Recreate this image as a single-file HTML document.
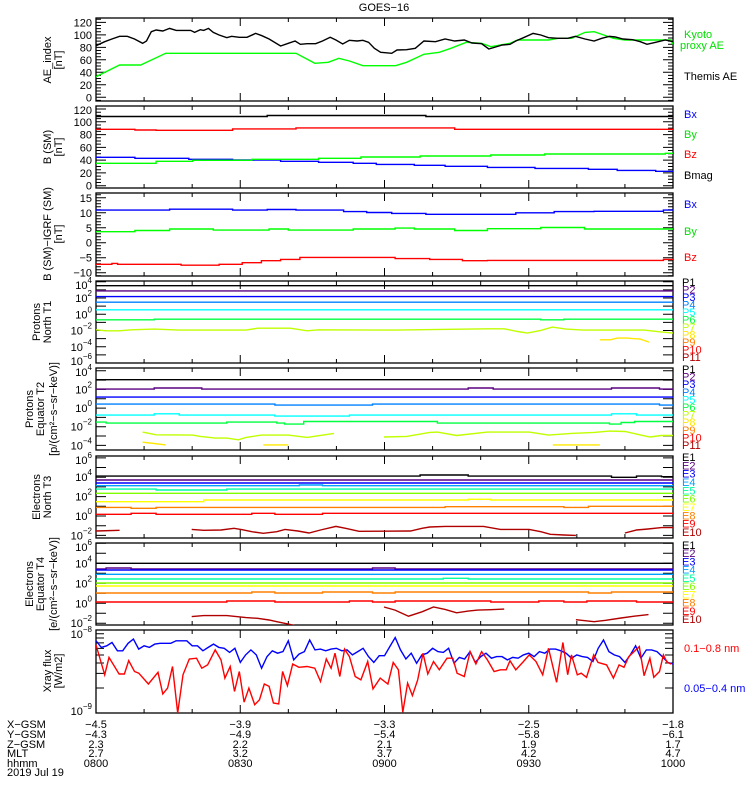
<!DOCTYPE html>
<html><head><meta charset="utf-8"><title>GOES-16</title>
<style>
html,body{margin:0;padding:0;background:#fff;}
svg{display:block;font-family:"Liberation Sans",sans-serif;}
text{font-size:11px;}
</style></head>
<body>
<svg id="chart" width="750" height="800" viewBox="0 0 750 800" xmlns="http://www.w3.org/2000/svg">
<rect x="0" y="0" width="750" height="800" fill="#fff"/>
<text x="384" y="11" text-anchor="middle" font-size="12">GOES−16</text>
<g id="axes"></g>
<g id="series"></g>
<g font-size="11">
<text transform="translate(51,60) rotate(-90)" text-anchor="middle">AE_index</text>
<text transform="translate(62,60) rotate(-90)" text-anchor="middle">[nT]</text>
<text transform="translate(51,147) rotate(-90)" text-anchor="middle">B (SM)</text>
<text transform="translate(62,147) rotate(-90)" text-anchor="middle">[nT]</text>
<text transform="translate(51,234) rotate(-90)" text-anchor="middle">B (SM)−IGRF (SM)</text>
<text transform="translate(62,234) rotate(-90)" text-anchor="middle">[nT]</text>
<text transform="translate(40,322) rotate(-90)" text-anchor="middle">Protons</text>
<text transform="translate(51,322) rotate(-90)" text-anchor="middle">North T1</text>
<text transform="translate(33,409) rotate(-90)" text-anchor="middle">Protons</text>
<text transform="translate(44,409) rotate(-90)" text-anchor="middle">Equator T2</text>
<text transform="translate(57,409) rotate(-90)" text-anchor="middle">[p/(cm²−s−sr−keV)]</text>
<text transform="translate(40,497) rotate(-90)" text-anchor="middle">Electrons</text>
<text transform="translate(51,497) rotate(-90)" text-anchor="middle">North T3</text>
<text transform="translate(33,584) rotate(-90)" text-anchor="middle">Electrons</text>
<text transform="translate(44,584) rotate(-90)" text-anchor="middle">Equator T4</text>
<text transform="translate(57,584) rotate(-90)" text-anchor="middle">[e/(cm²−s−sr−keV)]</text>
<text transform="translate(51,671) rotate(-90)" text-anchor="middle">Xray flux</text>
<text transform="translate(62,671) rotate(-90)" text-anchor="middle">[W/m2]</text>
</g>
<g font-size="11">
<text x="684" y="38" fill="#00e000">Kyoto</text>
<text x="680" y="49" fill="#00e000">proxy AE</text>
<text x="684" y="80" fill="#000">Themis AE</text>
<text x="684" y="118" fill="#0000ff">Bx</text>
<text x="684" y="138" fill="#00e000">By</text>
<text x="684" y="158" fill="#ff0000">Bz</text>
<text x="684" y="179" fill="#000">Bmag</text>
<text x="684" y="208" fill="#0000ff">Bx</text>
<text x="684" y="235" fill="#00e000">By</text>
<text x="684" y="261" fill="#ff0000">Bz</text>
<text x="684" y="652" fill="#ff0000">0.1−0.8 nm</text>
<text x="684" y="692" fill="#0000ff">0.05−0.4 nm</text>
</g>
<g id="chanlegend"></g>
<g font-size="11">
<text x="7" y="728">X−GSM</text>
<text x="7" y="738">Y−GSM</text>
<text x="7" y="748">Z−GSM</text>
<text x="7" y="757">MLT</text>
<text x="7" y="767">hhmm</text>
<text x="7" y="776">2019 Jul 19</text>
</g>
<g id="orbit" font-size="11"></g>
</svg>
<script>
// ---------- data ----------
const timeTickLabels = ["0800","0830","0900","0930","1000"];
const tickTimes = [0,30,60,90,120];
const xgsm = ["−4.5","−3.9","−3.3","−2.5","−1.8"];
const ygsm = ["−4.3","−4.9","−5.4","−5.8","−6.1"];
const zgsm = ["2.3","2.2","2.1","1.9","1.7"];
const mlt = ["2.7","3.2","3.7","4.2","4.7"];

const aeThemis = [[0,82.6],[1.8,89],[3.3,93.3],[4.9,97.6],[6.5,97.6],[8.0,93.3],[9.7,86.4],[10.5,90.1],[11.5,105],[12.5,107.7],[13.9,106.1],[15.3,110.4],[16.7,107.2],[18.5,107.2],[19.7,107.2],[20.5,104],[21.7,108.2],[22.4,107.2],[23.4,110.4],[24.4,104],[25.6,99.7],[27.2,95.4],[28.2,97.6],[29.8,96],[31.4,96],[33.2,102.4],[34.5,98.6],[36.0,93.3],[38.4,82.1],[40.0,86.4],[41.4,90.1],[42.5,84.8],[43.9,85.8],[45.7,85.8],[47.1,90.1],[48.7,96],[49.9,91.7],[51.3,85.3],[52.7,91.2],[54.3,90.1],[55.5,91.2],[56.7,88],[57.9,78.4],[59.2,72],[61.5,70.4],[62.6,75.7],[64.6,76.2],[66.4,78.4],[68.2,90.1],[70.6,89],[72.6,93.3],[74.6,90.1],[76.6,91.7],[78.2,86.9],[80.2,85.8],[81.7,77.3],[83.1,80.5],[84.5,83.7],[86.1,84.8],[87.3,90.1],[88.9,95.4],[90.9,102.4],[92.5,99.7],[94.1,95.4],[96.1,94.4],[98.1,94.4],[99.7,97.6],[101.7,93.3],[103.6,90.1],[105.2,94.4],[106.8,97.6],[108.0,96.5],[109.6,93.3],[111.6,92.2],[113.2,89],[114.6,84.8],[116.4,88],[118.4,91.7],[120,89]];
const aeKyoto = [[0,33],[4.9,51.7],[9.3,51.7],[14.5,70.4],[41.6,70.4],[45.5,54.4],[48.3,56],[50.5,62.4],[52.7,58.1],[55.5,50.6],[62.3,50.6],[64.6,56],[68.2,68.8],[71.4,72],[73.8,78.4],[77.0,88],[80.2,86.4],[82.1,81],[86.1,86.4],[87.7,91.7],[94.1,91.7],[96.1,94.4],[98.9,94.4],[101.7,104],[103.6,105],[105.6,99.7],[107.6,94.4],[110.0,91.7],[119.6,91.7],[120,84.8]];

const bsmBmag = [[0,108.3],[35.6,109.9],[68.6,108.3]];
const bsmBy = [[0,88.3],[8.1,87.2],[12.5,86.7],[28.4,88.8],[41.6,90.4],[74.6,88.3]];
const bsmBx = [[0,44.4],[8.1,42.8],[19.3,41.3],[28.4,40.2],[38.4,38.1],[46.3,36.6],[53.5,35.0],[58.3,33.4],[66.2,31.9],[72.6,30.3],[81.4,28.7],[91.3,27.1],[102.4,25.6],[108.4,24.0],[116.4,22.5]];
const bsmBz = [[0,35.0],[12.5,38.1],[20.1,39.7],[32.4,41.3],[46.3,42.8],[55.1,44.9],[67.4,46.5],[82.1,48.0],[93.3,49.6],[118.4,50.7]];

const igrfBx = [[0,10.9],[15.3,11.2],[28.4,10.9],[35.6,11.1],[41.6,10.9],[51.5,10.4],[56.3,10.1],[61.5,9.8],[68.6,9.5],[87.3,10.0],[95.3,10.4],[103.6,10.5],[118.0,10.9]];
const igrfBy = [[0,3.67],[8.1,4.1],[15.3,4.57],[24.4,4.23],[36.0,4.57],[40.0,4.23],[53.5,4.57],[62.2,4.9],[66.2,4.57],[74.6,4.1],[81.4,4.68],[92.5,5.1],[101.6,4.57]];
const igrfBz = [[0,-7.2],[3.3,-6.9],[4.5,-7.2],[17.7,-7.5],[25.6,-7.2],[30.4,-6.67],[34.4,-6.0],[38.4,-5.56],[42.4,-4.9],[62.2,-5.3],[69.4,-5.56],[76.2,-6.0],[81.4,-5.9],[118.0,-5.56]];

// Protons North T1 (log10 flux)
const pT1 = {
 P1:[[0,3.52]], P2:[[0,2.88]], P3:[[0,2.18]], P4:[[0,1.49]], P5:[[0,0.55]],
 P6:[[0,-0.68],[12.1,-0.6],[92.5,-0.68],[97.3,-0.6]]
};
const pT1P7 = [[0,-1.91],[2.1,-2.03],[4.9,-2.03],[7.3,-1.91],[12.1,-1.83],[17.3,-1.95],[31.2,-1.95],[33.6,-1.71],[40.4,-1.71],[43.9,-2.03],[46.3,-1.91],[62.2,-1.95],[81.4,-1.79],[84.9,-1.79],[87.7,-2.12],[89.7,-2.32],[92.5,-1.99],[94.9,-1.58],[97.7,-1.83],[101.3,-1.95],[114.0,-1.95],[117.2,-2.16],[120,-2.32]];
const pT1P8 = [[104.8,-3.14],[107.0,-3.14],[108.4,-2.93],[110.5,-2.93],[113.2,-3.06],[115.0,-3.43]];

// Protons Equator T2
const pT2 = {
 P1:[[0,3.04]],
 P2:[[0,2.04],[12.1,2.15],[22.0,2.04],[77.4,2.15],[82.6,2.04],[107.2,2.15],[117.2,2.04]],
 P3:[[0,1.18]],
 P4:[[0,0.43],[37.2,0.32],[57.5,0.43],[117.2,0.32]],
 P5:[[0,-0.75],[12.1,-0.61],[17.3,-0.75],[37.2,-0.86],[52.7,-0.75],[107.2,-0.61],[112.4,-0.75]],
 P6:[[0,-1.51],[2.1,-1.61],[27.2,-1.51],[37.6,-1.61],[39.2,-1.72],[43.2,-1.44],[71.0,-1.61],[106.8,-1.72],[109.2,-1.55],[112,-1.44]]
};
const pT2P7 = [[9.7,-2.58],[12.5,-2.87],[20.1,-2.90],[21.7,-3.04],[24.8,-3.22],[27.2,-3.22],[29.6,-3.40],[31.2,-3.15],[34.4,-2.90],[40.0,-2.90],[43.9,-3.15],[46.3,-2.97],[49.5,-2.72],null,[59.9,-3.11],[64.6,-3.04],[69.4,-2.61],[71.0,-2.58],[75.0,-2.94],[81.4,-2.58],[90.1,-2.58],[94.1,-2.90],[98.9,-2.72],[103.6,-2.61],[106.8,-2.47],[110.0,-2.51],[115.2,-3.11],[117.6,-2.94],[120,-2.94]];
const pT2P8 = [[9.7,-3.66],[12.1,-3.8],[14.5,-3.95],null,[34.8,-3.95],[40.0,-3.95],null,[95.0,-3.95],[104.8,-3.95]];

// Electrons North T3
const eT3 = {
 E1:[[0,4.12],[67.4,4.23],[77.4,4.12],[107.2,3.99],[112.4,4.12],[117.6,4.05]],
 E2:[[0,3.71]], E3:[[0,3.40]],
 E4:[[0,3.13],[42.3,3.2],[47.1,3.13]],
 E5:[[0,2.78],[12.5,2.68],[27.2,2.78]],
 E6:[[0,2.34]],
 E7:[[0,1.48],[22.4,1.65],[77.4,1.72],[82.1,1.65]],
 E8:[[0,0.89],[7.3,0.79],[12.5,0.89],[72.6,0.96],[97.3,0.89],[102.4,1.0]],
 E9:[[0,0.17],[7.3,0.28],[12.5,0.17],[32.4,0.28],[37.2,0.17],[47.1,0.28]]
};
const eT3E10 = [[0,-1.55],[4.9,-1.48],null,[19.9,-1.38],[22.4,-1.48],[26.0,-1.44],[28.7,-1.27],[30.4,-1.41],[32.4,-1.62],[34.8,-1.79],[37.6,-1.62],[39.3,-1.38],[42.0,-1.55],[44.3,-1.75],[46.7,-1.44],[49.9,-1.07],[51.9,-1.27],[54.7,-1.58],[65.4,-1.55],[67.8,-1.27],[69.4,-1.13],[72.6,-1.07],[80.6,-1.07],[84.1,-1.38],[90.1,-1.38],[92.5,-1.62],[94.5,-1.89],[97.3,-1.96],[99.8,-2.0],null,[110.0,-1.75],[112.4,-1.44],[114.8,-1.34],[117.6,-1.2],[120,-1.2]];

// Electrons Equator T4
const eT4 = {
 E1:[[0,4.0]],
 E2:[[0,3.43],[2.1,3.53],[7.3,3.43],[57.5,3.53],[62.2,3.43]],
 E3:[[0,3.33]],
 E4:[[0,2.9]],
 E5:[[0,2.43],[72.2,2.5],[77.4,2.43]],
 E6:[[0,2.03]],
 E7:[[0,1.73]],
 E8:[[0,1.03],[32.4,1.13],[37.2,1.03],[47.1,1.13],[57.5,1.03],[62.2,1.13],[102.4,1.03],[107.2,1.13]],
 E9:[[0,0.13],[27.2,0.23],[37.2,0.13],[52.7,0.23],[57.5,0.13],[62.2,0.23],[82.1,0.13],[92.1,0.23],[97.3,0.13],[102.1,0.23],[112.4,0.13]]
};
const eT4E10 = [[19.9,-1.33],[22.4,-1.23],[27.2,-1.23],[31.2,-1.43],[33.6,-1.5],[36.0,-1.67],[37.6,-1.84],[40.0,-2.08],[42,-2.3],null,[59.9,-0.37],[62.2,-0.68],[65.0,-1.29],[67.8,-0.85],[70.2,-0.37],[72.6,-0.61],[75.0,-0.95],[77.4,-0.78],[79.4,-0.68],[82.1,-0.64],[84.9,-0.58],null,[99.8,-1.64],[103.6,-1.84],[106.0,-1.7],[109.2,-1.47],[112.4,-1.26],[114.9,-1.13]];

// X-ray flux (log10 W/m2)
const xrayLongTimes = [0,1.8,2.7,4.8,5.9,6.8,8.0,8.9,10.9,12.9,13.9,14.9,15.9,17.0,18.1,19.4,20.9,22.0,23.2,24.8,26.0,26.8,27.9,28.8,29.8,30.8,31.8,33.0,34.0,35.0,36.0,36.9,38.0,38.8,39.8,40.9,42.2,43.9,45.5,46.7,47.9,48.9,49.7,50.7,51.7,52.7,53.9,55.1,56.5,57.6,59.1,60.7,61.8,62.9,63.8,64.8,65.8,66.9,68.0,69.0,70.2,71.4,73.0,74.2,75.1,76.6,77.8,79.0,80.2,81.4,82.8,84.1,85.3,86.1,87.3,88.9,90.1,91.5,92.9,94.1,95.8,97.1,98.1,98.9,100.1,100.9,102.0,103.5,104.4,106.2,107.6,108.8,109.8,110.8,113.0,114.0,115.2,116.0,117.2,118.0,118.8,119.6];
const xrayLong = [-8.18,-8.54,-8.33,-8.53,-8.53,-8.37,-8.50,-8.52,-8.65,-8.51,-8.77,-8.70,-8.44,-9.0,-8.54,-8.35,-8.34,-8.46,-8.42,-8.24,-8.36,-8.58,-8.44,-8.74,-8.50,-8.87,-8.70,-8.90,-8.84,-8.65,-8.68,-8.88,-8.89,-8.50,-8.67,-8.41,-8.45,-8.44,-8.46,-8.62,-8.35,-8.46,-8.28,-8.56,-8.23,-8.32,-8.56,-8.60,-8.38,-8.71,-8.58,-8.65,-8.39,-8.48,-8.99,-8.64,-8.79,-8.60,-8.28,-8.53,-8.38,-8.48,-8.34,-8.34,-8.52,-8.56,-8.26,-8.41,-8.26,-8.36,-8.50,-8.48,-8.48,-8.37,-8.48,-8.38,-8.30,-8.38,-8.54,-8.22,-8.63,-8.15,-8.54,-8.30,-8.54,-8.52,-8.57,-8.30,-8.39,-8.42,-8.58,-8.42,-8.45,-8.32,-8.20,-8.55,-8.34,-8.57,-8.50,-8.30,-8.39,-8.41];
const xrayShort = [-8.13,-8.21,-8.19,-8.15,-8.25,-8.25,-8.16,-8.11,-8.23,-8.19,-8.21,-8.17,-8.16,-8.16,-8.16,-8.13,-8.13,-8.13,-8.19,-8.19,-8.25,-8.21,-8.17,-8.21,-8.22,-8.27,-8.22,-8.39,-8.30,-8.24,-8.30,-8.46,-8.32,-8.25,-8.28,-8.26,-8.13,-8.36,-8.29,-8.26,-8.12,-8.24,-8.23,-8.25,-8.23,-8.22,-8.25,-8.24,-8.30,-8.26,-8.22,-8.32,-8.39,-8.31,-8.31,-8.20,-8.09,-8.24,-8.35,-8.28,-8.40,-8.30,-8.28,-8.22,-8.26,-8.27,-8.22,-8.40,-8.33,-8.35,-8.26,-8.39,-8.32,-8.28,-8.34,-8.32,-8.32,-8.36,-8.33,-8.34,-8.30,-8.28,-8.32,-8.26,-8.28,-8.23,-8.23,-8.25,-8.28,-8.34,-8.30,-8.32,-8.33,-8.38,-8.22,-8.12,-8.26,-8.30,-8.32,-8.39,-8.30,-8.19,-8.34,-8.24,-8.24,-8.26,-8.32,-8.39,-8.41];

const pNames = ["P1","P2","P3","P4","P5","P6","P7","P8","P9","P10","P11"];
const pColors = ["#000000","#5a0080","#0000ff","#0080ff","#00ffff","#00ff40","#c0ff00","#ffe800","#ff8000","#ff0000","#b00000"];
const eNames = ["E1","E2","E3","E4","E5","E6","E7","E8","E9","E10"];
const eColors = ["#000000","#5a0080","#0000ff","#00a0ff","#00ffa0","#80ff00","#ffff00","#ff8000","#ff0000","#b00000"];

// ---------- layout ----------
const NS = "http://www.w3.org/2000/svg";
const X0 = 96, X1 = 673;
function X(t){ return X0 + t*(X1-X0)/120; }
const panels = [
 {id:"ae", top:18, bot:101, lo:-6, hi:127, log:false, labels:[0,20,40,60,80,100,120], minor:5},
 {id:"bsm", top:106, bot:188, lo:-3.6, hi:124.7, log:false, labels:[0,20,40,60,80,100,120], minor:5},
 {id:"igrf", top:193, bot:276, lo:-11.1, hi:16.6, log:false, labels:[-10,-5,0,5,10,15], minor:1},
 {id:"pt1", top:281, bot:363, lo:-6.0, hi:4.1, log:true, labels:[4,2,0,-2,-4,-6]},
 {id:"pt2", top:368, bot:450, lo:-4.5, hi:4.3, log:true, labels:[4,2,0,-2,-4]},
 {id:"et3", top:456, bot:538, lo:-2.27, hi:6.19, log:true, labels:[6,4,2,0,-2]},
 {id:"et4", top:543, bot:625, lo:-2.17, hi:6.03, log:true, labels:[6,4,2,0,-2]},
 {id:"xray", top:630, bot:713, lo:-9, hi:-8, log:true, labels:[-8,-9], xray:true}
];
function Y(p,v){ return p.bot - (v-p.lo)/(p.hi-p.lo)*(p.bot-p.top); }

const axesG = document.getElementById("axes");
const seriesG = document.getElementById("series");
const defs = document.createElementNS(NS,"defs");
document.getElementById("chart").insertBefore(defs, axesG);

function mk(tag, attrs, parent){
  const e = document.createElementNS(NS, tag);
  for (const k in attrs) e.setAttribute(k, attrs[k]);
  parent.appendChild(e);
  return e;
}

panels.forEach(p => {
  const cp = mk("clipPath", {id:"clip-"+p.id}, defs);
  mk("rect", {x:X0, y:p.top, width:X1-X0, height:p.bot-p.top}, cp);
  const frame = mk("rect", {x:X0, y:p.top, width:X1-X0, height:p.bot-p.top, fill:"none", stroke:"#000", "stroke-width":1.3}, axesG);
  
  
  for (let t=10; t<120; t+=10){
    const len = (t%30===0) ? 8 : 4;
    const x = X(t);
    const tk = mk("path", {d:`M${x} ${p.bot}V${p.bot-len}M${x} ${p.top}V${p.top+len}`, stroke:"#000", "stroke-width":1}, axesG);
    
    
  }
  let d = "";
  if (!p.log){
    for (let v=Math.ceil(p.lo/p.minor)*p.minor; v<=p.hi; v+=p.minor){
      const y = Y(p,v);
      const len = p.labels.includes(v) ? 10 : 5;
      d += `M${X0} ${y}H${X0+len}M${X1} ${y}H${X1-len}`;
    }
  } else if (p.xray){
    for (let k=2;k<=9;k++){ const y = Y(p, -9+Math.log10(k)); d += `M${X0} ${y}H${X0+8}M${X1} ${y}H${X1-8}`; }
  } else {
    for (let v=Math.ceil(p.lo); v<=p.hi; v++){ const y = Y(p,v); d += `M${X0} ${y}H${X0+10}M${X1} ${y}H${X1-10}`; }
  }
  const yt = mk("path", {d:d, stroke:"#000", "stroke-width":1}, axesG);
  
  
  p.labels.forEach(v => {
    let y = Y(p,v);
    y = Math.max(p.top+4, Math.min(p.bot-2, y));
    const tx = mk("text", {x:92, y:y+4, "text-anchor":"end", "font-size":12}, axesG);
    
    
    if (p.log){
      tx.textContent = "10";
      const sp = mk("tspan", {dy:-6, "font-size":8}, tx);
      sp.textContent = (v<0 ? "−" + (-v) : String(v));
    } else {
      tx.textContent = (v<0 ? "−" + (-v) : String(v));
    }
  });
});
const P = {}; panels.forEach(p => P[p.id] = p);

function drawLine(p, pts, color, name){
  let d = "", pen = false;
  pts.forEach(pt => {
    if (pt === null){ pen = false; return; }
    d += (pen ? "L" : "M") + X(pt[0]).toFixed(1) + " " + Y(p, pt[1]).toFixed(1);
    pen = true;
  });
  const path = mk("path", {d:d, fill:"none", stroke:color, "stroke-width":1.4, "clip-path":`url(#clip-${p.id})`}, seriesG);
  
  
}
function drawStep(p, pts, color, name){
  let d = "";
  pts.forEach((pt,i) => {
    const y = Y(p, pt[1]).toFixed(1);
    const x0 = X(pt[0]).toFixed(1);
    const x1 = X(i<pts.length-1 ? pts[i+1][0] : 120).toFixed(1);
    d += (i===0 ? "M"+x0+" "+y : "V"+y) + "H" + x1;
  });
  const path = mk("path", {d:d, fill:"none", stroke:color, "stroke-width":1.4, "clip-path":`url(#clip-${p.id})`}, seriesG);
  
  
}

drawLine(P.ae, aeKyoto, "#00ff00", "kyoto-proxy-ae-line");
drawLine(P.ae, aeThemis, "#000000", "themis-ae-line");
drawStep(P.bsm, bsmBmag, "#000000", "bsm-bmag-line");
drawStep(P.bsm, bsmBy, "#ff0000", "bsm-by-line");
drawStep(P.bsm, bsmBx, "#0000ff", "bsm-bx-line");
drawStep(P.bsm, bsmBz, "#00ff00", "bsm-bz-line");
drawStep(P.igrf, igrfBx, "#0000ff", "igrf-bx-line");
drawStep(P.igrf, igrfBy, "#00ff00", "igrf-by-line");
drawStep(P.igrf, igrfBz, "#ff0000", "igrf-bz-line");
["P1","P2","P3","P4","P5","P6"].forEach((k,i) => drawStep(P.pt1, pT1[k], pColors[i], "proton-t1-" + k.toLowerCase() + "-line"));
drawLine(P.pt1, pT1P7, pColors[6], "proton-t1-p7-line");
drawLine(P.pt1, pT1P8, pColors[7], "proton-t1-p8-line");
["P1","P2","P3","P4","P5","P6"].forEach((k,i) => drawStep(P.pt2, pT2[k], pColors[i], "proton-t2-" + k.toLowerCase() + "-line"));
drawLine(P.pt2, pT2P7, pColors[6], "proton-t2-p7-line");
drawLine(P.pt2, pT2P8, pColors[7], "proton-t2-p8-line");
eNames.slice(0,9).forEach((k,i) => drawStep(P.et3, eT3[k], eColors[i], "electron-t3-" + k.toLowerCase() + "-line"));
drawLine(P.et3, eT3E10, eColors[9], "electron-t3-e10-line");
eNames.slice(0,9).forEach((k,i) => drawStep(P.et4, eT4[k], eColors[i], "electron-t4-" + k.toLowerCase() + "-line"));
drawLine(P.et4, eT4E10, eColors[9], "electron-t4-e10-line");
const xrayShortPts = xrayShort.map((v,i) => [i*120/(xrayShort.length-1), v]);
const xrayLongPts = xrayLong.map((v,i) => [xrayLongTimes[i], v]);
drawLine(P.xray, xrayShortPts, "#0000ff", "xray-short-line");
drawLine(P.xray, xrayLongPts, "#ff0000", "xray-long-line");

const legG = document.getElementById("chanlegend");
function chanLegend(names, colors, y0, y1, prefix){
  names.forEach((n,i) => {
    const y = y0 + i*(y1-y0)/(names.length-1);
    const t = mk("text", {x:682, y:y+4, fill:colors[i], "font-size":10}, legG);
    
    
    t.textContent = n;
  });
}
chanLegend(pNames, pColors, 282, 357, "proton-t1");
chanLegend(pNames, pColors, 369, 445, "proton-t2");
chanLegend(eNames, eColors, 457, 532, "electron-t3");
chanLegend(eNames, eColors, 545, 619, "electron-t4");

const orbitG = document.getElementById("orbit");
const rows = [xgsm, ygsm, zgsm, mlt, timeTickLabels];
const rowY = [728,738,748,757,767];
tickTimes.forEach((t,c) => {
  rows.forEach((r,j) => {
    const tx = mk("text", {x:X(t), y:rowY[j], "text-anchor":"middle"}, orbitG);
    
    
    tx.textContent = r[c];
  });
});
</script>
</body></html>
